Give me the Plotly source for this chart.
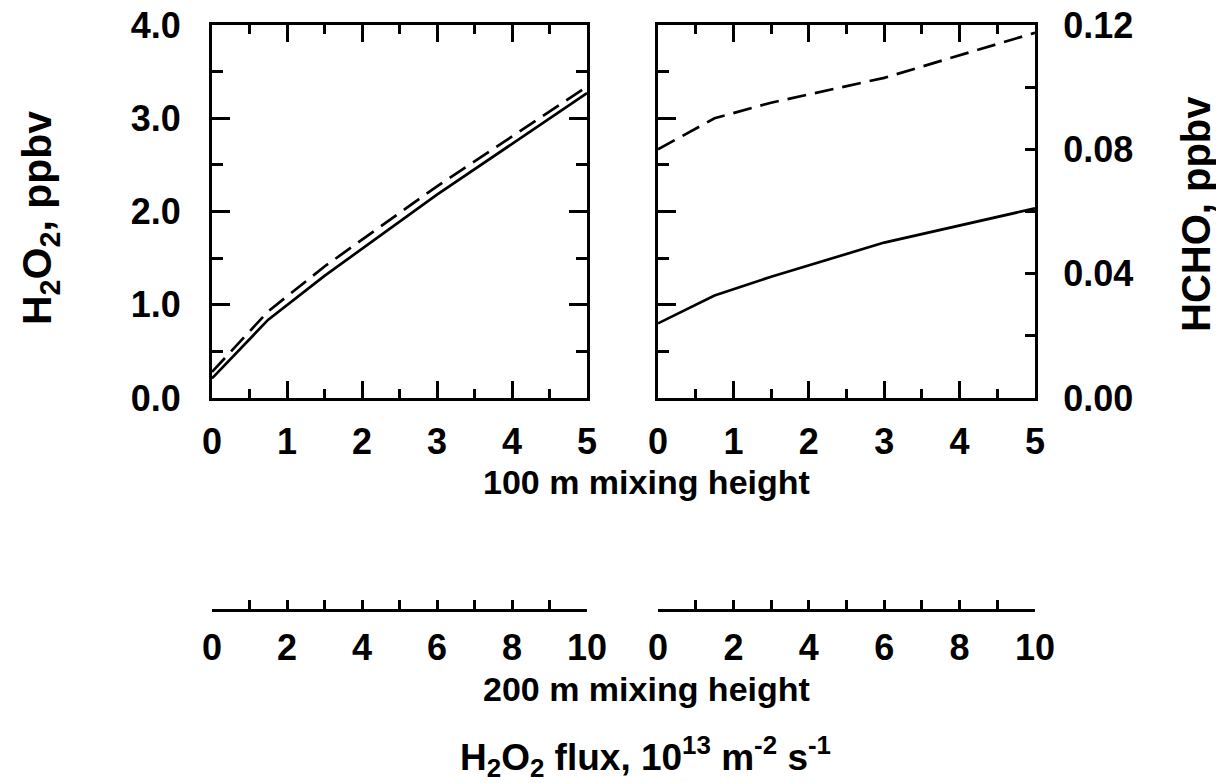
import plotly.graph_objects as go

# ---- data ----
flux_100 = [0, 0.75, 1.5, 3, 5]          # H2O2 flux, 1e13 m^-2 s^-1 (100 m mixing height axis)
h2o2_solid = [0.21, 0.84, 1.31, 2.18, 3.27]
h2o2_dashed = [0.28, 0.93, 1.41, 2.27, 3.34]
hcho_solid = [0.024, 0.033, 0.039, 0.050, 0.061]
hcho_dashed = [0.080, 0.090, 0.095, 0.103, 0.1175]
flux_200_range = [0, 10]                  # 200 m mixing height axis
flux_200_ticks = list(range(0, 11))
flux_200_labels = [str(v) if v % 2 == 0 else "" for v in flux_200_ticks]

# page is offset by the 8px default body margin -> figure is 1216x775 at (8,8)
OFF = 8
W, H = 1224 - OFF, 783 - OFF
FONT = "Liberation Sans, Arial, sans-serif"

def px(x):
    return (x - OFF) / W

def py(y):
    return 1 - (y - OFF) / H

xl = [px(212), px(587)]
xr = [px(658), px(1035)]
yd = [py(398), py(25)]

fig = go.Figure()
line_solid = dict(color="black", width=2.7)
line_dash = dict(color="black", width=2.7, dash="19px,9px")

fig.add_trace(go.Scatter(x=flux_100, y=h2o2_solid, mode="lines", line=line_solid,
                         xaxis="x", yaxis="y", showlegend=False))
fig.add_trace(go.Scatter(x=flux_100, y=h2o2_dashed, mode="lines", line=line_dash,
                         xaxis="x", yaxis="y", showlegend=False))
fig.add_trace(go.Scatter(x=flux_100, y=hcho_solid, mode="lines", line=line_solid,
                         xaxis="x2", yaxis="y2", showlegend=False))
fig.add_trace(go.Scatter(x=flux_100, y=hcho_dashed, mode="lines", line=line_dash,
                         xaxis="x2", yaxis="y2", showlegend=False))
# helper traces so the extra axes are drawn
for xa in ("x3", "x4"):
    fig.add_trace(go.Scatter(x=flux_200_range, y=[None, None], mode="markers",
                             marker=dict(opacity=0), xaxis=xa, yaxis="y4",
                             showlegend=False, hoverinfo="skip"))
fig.add_trace(go.Scatter(x=flux_100, y=[None] * len(flux_100), mode="markers",
                         marker=dict(opacity=0), xaxis="x2", yaxis="y3", showlegend=False,
                         hoverinfo="skip"))

tickfont = dict(family=FONT, size=36, color="black", weight="bold")
LW = 3

def main_x(domain, anchor):
    return dict(domain=domain, anchor=anchor, range=[0, 5], autorange=False,
                automargin=False, ticklabeloverflow="allow",
                showline=True, linewidth=LW, linecolor="black", mirror="ticks",
                ticks="inside", ticklen=17, tickwidth=LW, tickcolor="black",
                dtick=1, tick0=0, showgrid=False, zeroline=False,
                minor=dict(dtick=0.5, ticklen=9, tickwidth=LW, ticks="inside",
                           tickcolor="black", showgrid=False),
                tickfont=tickfont, ticklabelstandoff=10)

def ppbv_y(domain, anchor, labels=True, side="left"):
    d = dict(anchor=anchor, range=[0, 4], autorange=False, automargin=False,
             ticklabeloverflow="allow",
             showline=True, linewidth=LW, linecolor="black",
             ticks="inside", ticklen=18, tickwidth=LW, tickcolor="black",
             dtick=1, tick0=0, tickformat=".1f", showgrid=False, zeroline=False,
             minor=dict(dtick=0.5, ticklen=11, tickwidth=LW, ticks="inside",
                        tickcolor="black", showgrid=False),
             showticklabels=labels, tickfont=tickfont, side=side,
             ticklabelstandoff=21)
    if domain is not None:
        d["domain"] = domain
    return d

yaxis1 = ppbv_y(yd, "x")
yaxis1["mirror"] = "ticks"
yaxis3 = ppbv_y(None, "x2", labels=False)
yaxis3["overlaying"] = "y2"

def bottom_x(domain):
    return dict(domain=domain, anchor="y4", range=flux_200_range,
                autorange=False, automargin=False, ticklabeloverflow="allow",
                showline=True, linewidth=LW, linecolor="black",
                ticks="inside", ticklen=9, tickwidth=LW, tickcolor="black",
                tickvals=flux_200_ticks, ticktext=flux_200_labels,
                showgrid=False, zeroline=False,
                tickfont=tickfont, ticklabelstandoff=5)

fig.update_layout(
    width=W, height=H,
    margin=dict(l=0, r=0, t=0, b=0, autoexpand=False),
    paper_bgcolor="white", plot_bgcolor="rgba(0,0,0,0)",
    xaxis=main_x(xl, "y"),
    xaxis2=main_x(xr, "y2"),
    xaxis3=bottom_x(xl),
    xaxis4=bottom_x(xr),
    yaxis=yaxis1,
    yaxis2=dict(domain=yd, anchor="x2", side="right", range=[0, 0.12], autorange=False,
                automargin=False, ticklabeloverflow="allow",
                showline=True, linewidth=LW, linecolor="black",
                ticks="inside", ticklen=10, tickwidth=LW, tickcolor="black",
                tickvals=[0, 0.04, 0.08, 0.12], ticktext=["0.00", "0.04", "0.08", "0.12"],
                showgrid=False, zeroline=False,
                minor=dict(dtick=0.02, ticklen=10, tickwidth=LW, ticks="inside",
                           tickcolor="black", showgrid=False),
                tickfont=tickfont, ticklabelstandoff=18),
    yaxis3=yaxis3,
    yaxis4=dict(domain=[py(609), py(609) + 0.02], anchor="x3", range=[0, 1],
                visible=False, automargin=False),
    showlegend=False,
)

titlefont = dict(family=FONT, color="black", weight="bold")
ann = [
    dict(text="100 m mixing height", x=px(647), y=py(482), size=34),
    dict(text="200 m mixing height", x=px(647), y=py(689), size=34),
    dict(text="H<sub>2</sub>O<sub>2</sub> flux, 10<sup>13</sup> m<sup>-2</sup> s<sup>-1</sup>",
         x=px(645), y=py(756), size=37),
    dict(text="H<sub>2</sub>O<sub>2</sub>, ppbv", x=px(40), y=py(218), angle=-90, size=41),
    dict(text="HCHO, ppbv", x=px(1196), y=py(214), angle=-90, size=40),
]
for a in ann:
    f = dict(titlefont)
    f["size"] = a["size"]
    fig.add_annotation(text=a["text"], x=a["x"], y=a["y"], xref="paper", yref="paper",
                       showarrow=False, xanchor="center", yanchor="middle",
                       textangle=a.get("angle", 0), font=f)

fig.write_html("out.html")
